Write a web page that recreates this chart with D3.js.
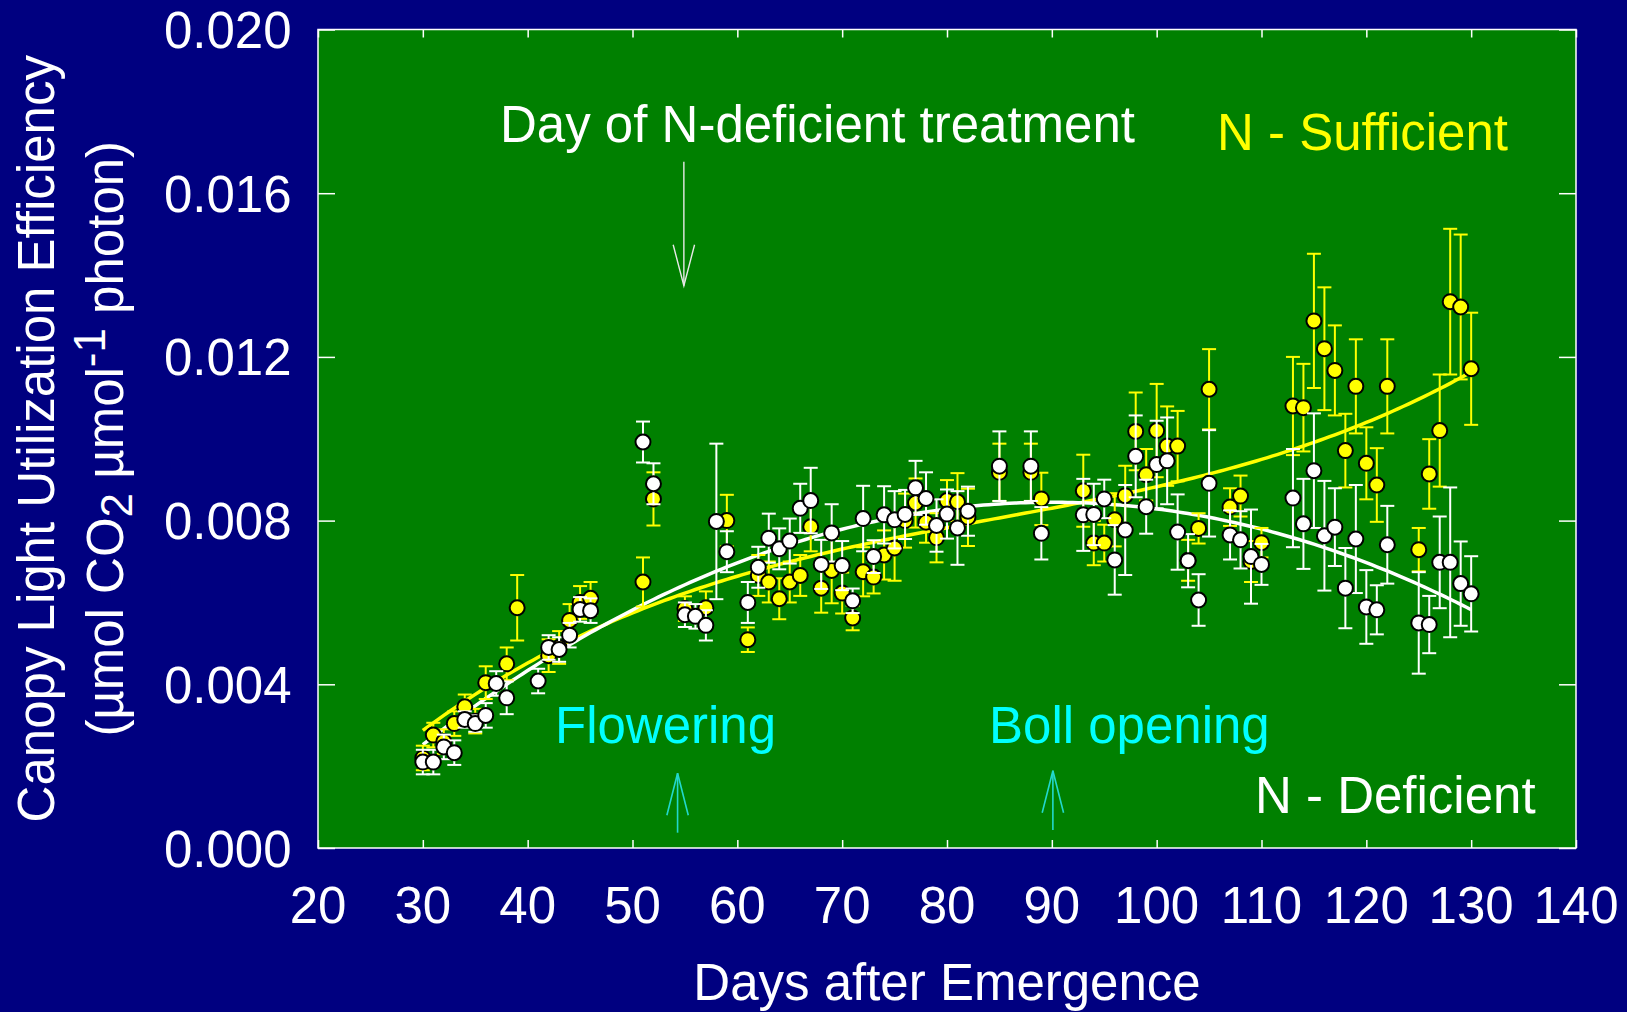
<!DOCTYPE html>
<html>
<head>
<meta charset="utf-8">
<script src="https://cdn.jsdelivr.net/npm/d3@7"></script>
<style>
  body { margin: 0; background: #000080; }
  svg { display: block; }
  text { font-family: "Liberation Sans", Arial, Helvetica, sans-serif; }
</style>
</head>
<body>
<div id="chart"></div>
<script>
// days after emergence, shared by both treatments (null = no point drawn)
var days = [30,31,32,33,34,35,36,37,38,39,41,42,43,44,45,46,51,52,55,56,57,58,59,
  61,62,63,64,65,66,67,68,69,70,71,72,73,74,75,76,77,78,79,80,81,82,85,88,89,
  93,94,95,96,97,98,99,100,101,102,103,104,105,107,108,109,110,
  113,114,115,116,117,118,119,120,121,122,125,126,127,128,129,130];

var deficient = [0.0021,0.0021,0.00247,0.00233,0.00314,0.00304,0.00324,0.00402,0.00367,null,0.00408,0.0049,0.00485,0.0052,0.00583,0.0058,0.00992,0.0089,0.0057,0.00566,0.00544,0.00798,0.00724,
  0.0060,0.00686,0.00757,0.00731,0.0075,0.0083,0.00849,0.00693,0.0077,0.0069,0.00604,0.00805,0.00712,0.00814,0.00802,0.00815,0.0088,0.00854,0.00788,0.00816,0.00782,0.00823,0.00933,0.00933,0.00769,
  0.00814,0.00815,0.00853,0.00704,0.00777,0.00957,0.00834,0.00937,0.00946,0.00772,0.00702,0.00606,0.00891,0.00765,0.00753,0.00712,0.00693,
  0.00855,0.00792,0.00922,0.00763,0.00784,0.00635,0.00755,0.00589,0.00582,0.00741,0.0055,0.00546,0.00698,0.00698,0.00646,0.00621];

var deficientErr = [0.0003,0.0003,0.0003,0.0003,0.0002,0.0002,0.0003,0.0003,0.0004,null,0.0003,0.0003,0.0003,0.0003,0.0003,0.0003,0.0005,0.0005,0.0003,0.0003,0.00037,0.0019,0.0005,
  0.0005,0.0005,0.0006,0.0005,0.00055,0.0006,0.0008,0.0006,0.0007,0.0006,0.0003,0.0008,0.0004,0.0007,0.0007,0.0006,0.00066,0.00064,0.00064,0.0006,0.0009,0.0006,0.00085,0.00085,0.00064,
  0.00088,0.00075,0.00047,0.00085,0.0011,0.001,0.00066,0.00107,0.00106,0.00092,0.00065,0.00063,0.0013,0.0006,0.0007,0.00115,0.0005,
  0.0012,0.0011,0.0014,0.00134,0.00095,0.00098,0.00132,0.0009,0.0006,0.00095,0.00124,0.0007,0.00112,0.00183,0.00103,0.00092];

var sufficient = [0.0022,0.00276,0.0026,0.00304,0.00345,0.0031,0.00404,null,0.0045,0.00587,null,0.0047,0.0049,0.00556,0.0060,0.0061,0.0065,0.00853,0.00585,null,0.00587,null,0.0080,
  0.00509,0.00666,0.0065,0.00609,0.0065,0.00666,0.00785,0.00635,0.00678,0.00623,0.00562,0.00675,0.00662,0.00716,0.00733,0.0080,0.00843,0.00796,0.00758,0.00849,0.00846,0.00808,0.00918,0.00918,0.00853,
  0.00873,0.00745,0.00745,0.00802,0.00861,0.01018,0.00912,0.0102,0.00982,0.00982,0.00703,0.00781,0.01121,0.00833,0.0086,0.0070,0.00746,
  0.0108,0.01076,0.01288,0.0122,0.01167,0.00971,0.01128,0.0094,0.00887,0.01128,0.00729,0.00914,0.0102,0.01335,0.01322,0.01171];

var sufficientErr = [0.0003,0.0003,0.0003,0.0003,0.0003,0.0003,0.0004,null,0.0004,0.0008,null,0.0004,0.0004,0.0004,0.0004,0.0004,0.0006,0.00065,0.0003,null,0.0004,null,0.00063,
  0.0003,0.0005,0.0005,0.0005,0.0005,0.0005,0.0006,0.0006,0.0008,0.0005,0.0003,0.0006,0.0004,0.0006,0.0008,0.00066,0.0006,0.0005,0.0006,0.0005,0.0007,0.0007,0.0007,0.0007,0.00064,
  0.00088,0.00054,0.00045,0.00065,0.00073,0.00095,0.00063,0.00114,0.00097,0.00086,0.0005,0.00037,0.00098,0.00046,0.0005,0.0005,0.00036,
  0.0012,0.00107,0.00164,0.0015,0.0011,0.0009,0.00115,0.00088,0.0009,0.00115,0.00053,0.00085,0.00137,0.00178,0.00177,0.00137];

var xTicks = [20,30,40,50,60,70,80,90,100,110,120,130,140];
var yTicks = [0,0.004,0.008,0.012,0.016,0.020];
var eventDays = { treatment: 54.9, flowering: 54.3, bollOpening: 90.1 };

(function drawChart () {
  var width = 1627, height = 1012;
  var plotLeft = 318, plotRight = 1576, plotTop = 29.5, plotBottom = 848;
  var fontSize = 51;

  var x = d3.scaleLinear().domain([20, 140]).range([plotLeft, plotRight]);
  var y = d3.scaleLinear().domain([0, 0.020]).range([plotBottom, plotTop]);

  var svg = d3.select("#chart").append("svg")
    .attr("width", width).attr("height", height);

  svg.append("rect").attr("width", width).attr("height", height).attr("fill", "#000080");
  svg.append("rect")
    .attr("x", plotLeft).attr("y", plotTop)
    .attr("width", plotRight - plotLeft).attr("height", plotBottom - plotTop)
    .attr("fill", "#008000")
    .attr("stroke", "#ffffff").attr("stroke-width", 1.5);

  // ticks inside the frame, on all four sides
  var axisStyle = function (g) {
    g.select(".domain").remove();
    g.selectAll(".tick line").attr("stroke", "#ffffff").attr("stroke-width", 1.5);
    g.selectAll(".tick text").remove();
  };
  svg.append("g").attr("transform", "translate(0," + plotBottom + ")")
    .call(d3.axisBottom(x).tickValues(xTicks).tickSizeInner(-8)).call(axisStyle);
  svg.append("g").attr("transform", "translate(0," + plotTop + ")")
    .call(d3.axisTop(x).tickValues(xTicks).tickSizeInner(-8)).call(axisStyle);
  svg.append("g").attr("transform", "translate(" + plotLeft + ",0)")
    .call(d3.axisLeft(y).tickValues(yTicks).tickSizeInner(-17)).call(axisStyle);
  svg.append("g").attr("transform", "translate(" + plotRight + ",0)")
    .call(d3.axisRight(y).tickValues(yTicks).tickSizeInner(-17)).call(axisStyle);

  // tick labels
  svg.selectAll(".xlab").data(xTicks).enter().append("text")
    .attr("x", function (d) { return x(d); })
    .attr("y", 923)
    .attr("text-anchor", "middle")
    .attr("fill", "#ffffff").attr("font-size", fontSize)
    .text(function (d) { return d; });
  svg.selectAll(".ylab").data(yTicks).enter().append("text")
    .attr("x", 291.5)
    .attr("y", function (d) { return y(d) + 18.5; })
    .attr("text-anchor", "end")
    .attr("fill", "#ffffff").attr("font-size", fontSize)
    .text(function (d) { return d3.format(".3f")(d); });

  // axis titles
  svg.append("text")
    .attr("x", (plotLeft + plotRight) / 2).attr("y", 1000)
    .attr("text-anchor", "middle")
    .attr("fill", "#ffffff").attr("font-size", fontSize)
    .text("Days after Emergence");

  var yTitle = svg.append("g").attr("transform", "translate(0," + ((plotTop + plotBottom) / 2) + ") rotate(-90)");
  yTitle.append("text")
    .attr("x", 0).attr("y", 54)
    .attr("text-anchor", "middle")
    .attr("fill", "#ffffff").attr("font-size", fontSize)
    .text("Canopy Light Utilization Efficiency");
  var t2 = yTitle.append("text")
    .attr("x", 0).attr("y", 123)
    .attr("text-anchor", "middle")
    .attr("fill", "#ffffff").attr("font-size", fontSize);
  t2.append("tspan").text("(\u00b5mol CO");
  t2.append("tspan").attr("font-size", 44).attr("dy", 9).text("2");
  t2.append("tspan").attr("dy", -9).text(" \u00b5mol");
  t2.append("tspan").attr("font-size", 44).attr("dy", -18).text("-1");
  t2.append("tspan").attr("dy", 18).text(" photon)");

  // least-squares polynomial fit
  function polyfit (xs, ys, deg) {
    var n = deg + 1, A = [], b = [];
    for (var i = 0; i < n; i++) { A.push(new Array(n).fill(0)); b.push(0); }
    xs.forEach(function (xv, k) {
      var t = (xv - 80) / 50;
      for (var i = 0; i < n; i++) {
        for (var j = 0; j < n; j++) A[i][j] += Math.pow(t, i + j);
        b[i] += ys[k] * Math.pow(t, i);
      }
    });
    for (var c = 0; c < n; c++) {
      for (var r = c + 1; r < n; r++) {
        var f = A[r][c] / A[c][c];
        for (var j = c; j < n; j++) A[r][j] -= f * A[c][j];
        b[r] -= f * b[c];
      }
    }
    var coef = new Array(n).fill(0);
    for (var r2 = n - 1; r2 >= 0; r2--) {
      var s = b[r2];
      for (var j2 = r2 + 1; j2 < n; j2++) s -= A[r2][j2] * coef[j2];
      coef[r2] = s / A[r2][r2];
    }
    return function (xv) {
      var t = (xv - 80) / 50, v = 0;
      for (var i = 0; i < n; i++) v += coef[i] * Math.pow(t, i);
      return v;
    };
  }

  var series = [
    { name: "sufficient", vals: sufficient, errs: sufficientErr, color: "#ffff00", deg: 3 },
    { name: "deficient", vals: deficient, errs: deficientErr, color: "#ffffff", deg: 2 }
  ];
  series.forEach(function (s) {
    s.pts = days.map(function (d, i) { return { day: d, v: s.vals[i], e: s.errs[i] }; })
      .filter(function (p) { return p.v != null; });
  });

  var line = d3.line().x(function (d) { return x(d[0]); }).y(function (d) { return y(d[1]); });
  var fitDays = d3.range(30, 130.01, 0.5);

  series.forEach(function (s) {
    var fit = polyfit(s.pts.map(function (p) { return p.day; }), s.pts.map(function (p) { return p.v; }), s.deg);
    svg.append("path")
      .datum(fitDays.map(function (d) { return [d, fit(d)]; }))
      .attr("d", line)
      .attr("fill", "none")
      .attr("stroke", s.color).attr("stroke-width", 3.5);
  });

  series.forEach(function (s) {
    var g = svg.append("g").attr("class", s.name);
    var eb = g.selectAll(".err").data(s.pts).enter().append("g")
      .attr("stroke", s.color).attr("stroke-width", 2);
    eb.append("line")
      .attr("x1", function (p) { return x(p.day); }).attr("x2", function (p) { return x(p.day); })
      .attr("y1", function (p) { return y(p.v + p.e); }).attr("y2", function (p) { return y(p.v - p.e); });
    eb.append("line")
      .attr("x1", function (p) { return x(p.day) - 7; }).attr("x2", function (p) { return x(p.day) + 7; })
      .attr("y1", function (p) { return y(p.v + p.e); }).attr("y2", function (p) { return y(p.v + p.e); });
    eb.append("line")
      .attr("x1", function (p) { return x(p.day) - 7; }).attr("x2", function (p) { return x(p.day) + 7; })
      .attr("y1", function (p) { return y(p.v - p.e); }).attr("y2", function (p) { return y(p.v - p.e); });
    g.selectAll("circle").data(s.pts).enter().append("circle")
      .attr("cx", function (p) { return x(p.day); })
      .attr("cy", function (p) { return y(p.v); })
      .attr("r", 7.5)
      .attr("fill", s.color)
      .attr("stroke", "#000000").attr("stroke-width", 2);
  });

  // annotation arrows: open V heads
  function arrow (xv, yFrom, yTip, headLen, color, w) {
    var xp = x(xv), wing = yTip + (yTip > yFrom ? -headLen : headLen);
    svg.append("line").attr("x1", xp).attr("x2", xp).attr("y1", yFrom).attr("y2", yTip)
      .attr("stroke", color).attr("stroke-width", w);
    svg.append("path")
      .attr("d", "M" + (xp - 10.7) + "," + wing + "L" + xp + "," + yTip + "L" + (xp + 10.7) + "," + wing)
      .attr("fill", "none").attr("stroke", color).attr("stroke-width", w);
  }
  arrow(eventDays.treatment, 161.7, 285.7, 41, "#e8e8e8", 1.4);
  arrow(eventDays.flowering, 832.7, 773.3, 42, "#22d8cc", 1.6);
  arrow(eventDays.bollOpening, 830, 770.7, 42, "#22d8cc", 1.6);

  var labels = [
    { text: "Day of N-deficient treatment", x: 500, y: 141.5, color: "#ffffff" },
    { text: "N - Sufficient", x: 1217, y: 150, color: "#ffff00" },
    { text: "Flowering", x: 555, y: 742.7, color: "#00ffff" },
    { text: "Boll opening", x: 989, y: 742.7, color: "#00ffff" },
    { text: "N - Deficient", x: 1255, y: 813.3, color: "#ffffff" }
  ];
  svg.selectAll(".note").data(labels).enter().append("text")
    .attr("x", function (d) { return d.x; })
    .attr("y", function (d) { return d.y; })
    .attr("fill", function (d) { return d.color; })
    .attr("font-size", fontSize)
    .text(function (d) { return d.text; });
})();
</script>
</body>
</html>
